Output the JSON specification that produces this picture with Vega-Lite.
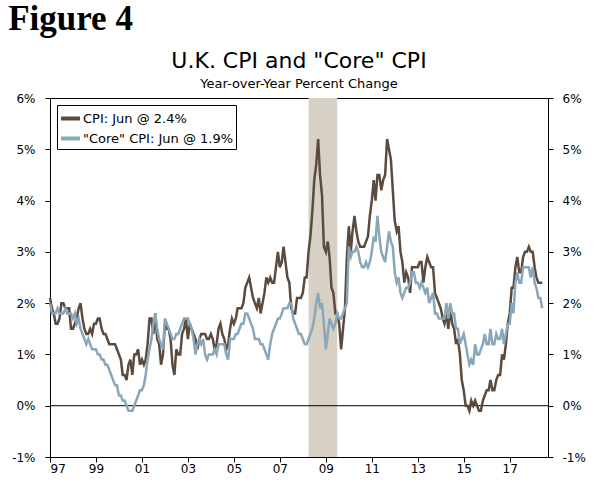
{
  "$schema": "https://vega.github.io/schema/vega-lite/v6.json",
  "background": "white",
  "padding": {"left": 8, "top": 1, "right": 10, "bottom": 14},
  "title": {
    "text": "Figure 4",
    "anchor": "start",
    "font": "Liberation Serif",
    "fontSize": 35,
    "fontWeight": "bold",
    "color": "black",
    "dx": -3,
    "offset": 13
  },
  "datasets": {
    "infl": [
      {"d": "1997-01-01", "cpi": 2.1, "core": 2.0}, {"d": "1997-02-01", "cpi": 1.9, "core": 1.8}, {"d": "1997-03-01", "cpi": 1.8, "core": 1.8},
      {"d": "1997-04-01", "cpi": 1.6, "core": 1.8}, {"d": "1997-05-01", "cpi": 1.6, "core": 1.9}, {"d": "1997-06-01", "cpi": 1.7, "core": 1.8},
      {"d": "1997-07-01", "cpi": 2.0, "core": 1.8}, {"d": "1997-08-01", "cpi": 2.0, "core": 1.8}, {"d": "1997-09-01", "cpi": 1.9, "core": 1.9},
      {"d": "1997-10-01", "cpi": 1.9, "core": 1.8}, {"d": "1997-11-01", "cpi": 1.9, "core": 1.8}, {"d": "1997-12-01", "cpi": 1.5, "core": 1.8},
      {"d": "1998-01-01", "cpi": 1.5, "core": 1.7}, {"d": "1998-02-01", "cpi": 1.6, "core": 1.8}, {"d": "1998-03-01", "cpi": 1.7, "core": 1.6},
      {"d": "1998-04-01", "cpi": 1.9, "core": 1.7}, {"d": "1998-05-01", "cpi": 2.0, "core": 1.5}, {"d": "1998-06-01", "cpi": 1.7, "core": 1.4},
      {"d": "1998-07-01", "cpi": 1.5, "core": 1.3}, {"d": "1998-08-01", "cpi": 1.4, "core": 1.2}, {"d": "1998-09-01", "cpi": 1.4, "core": 1.3},
      {"d": "1998-10-01", "cpi": 1.5, "core": 1.2}, {"d": "1998-11-01", "cpi": 1.4, "core": 1.1}, {"d": "1998-12-01", "cpi": 1.6, "core": 1.1},
      {"d": "1999-01-01", "cpi": 1.6, "core": 1.1}, {"d": "1999-02-01", "cpi": 1.7, "core": 1.0}, {"d": "1999-03-01", "cpi": 1.7, "core": 1.0},
      {"d": "1999-04-01", "cpi": 1.5, "core": 0.9}, {"d": "1999-05-01", "cpi": 1.4, "core": 0.9}, {"d": "1999-06-01", "cpi": 1.4, "core": 0.8},
      {"d": "1999-07-01", "cpi": 1.3, "core": 0.8}, {"d": "1999-08-01", "cpi": 1.2, "core": 0.7}, {"d": "1999-09-01", "cpi": 1.2, "core": 0.6},
      {"d": "1999-10-01", "cpi": 1.2, "core": 0.5}, {"d": "1999-11-01", "cpi": 1.2, "core": 0.4}, {"d": "1999-12-01", "cpi": 1.1, "core": 0.4},
      {"d": "2000-01-01", "cpi": 1.0, "core": 0.2}, {"d": "2000-02-01", "cpi": 0.9, "core": 0.2}, {"d": "2000-03-01", "cpi": 0.6, "core": 0.1},
      {"d": "2000-04-01", "cpi": 0.6, "core": 0.1}, {"d": "2000-05-01", "cpi": 0.5, "core": 0.0}, {"d": "2000-06-01", "cpi": 0.8, "core": -0.1},
      {"d": "2000-07-01", "cpi": 0.9, "core": -0.1}, {"d": "2000-08-01", "cpi": 0.6, "core": -0.1}, {"d": "2000-09-01", "cpi": 1.0, "core": 0.0},
      {"d": "2000-10-01", "cpi": 1.0, "core": 0.1}, {"d": "2000-11-01", "cpi": 1.1, "core": 0.2}, {"d": "2000-12-01", "cpi": 0.8, "core": 0.3},
      {"d": "2001-01-01", "cpi": 0.9, "core": 0.3}, {"d": "2001-02-01", "cpi": 0.8, "core": 0.4}, {"d": "2001-03-01", "cpi": 0.9, "core": 0.6},
      {"d": "2001-04-01", "cpi": 1.2, "core": 0.9}, {"d": "2001-05-01", "cpi": 1.7, "core": 1.1}, {"d": "2001-06-01", "cpi": 1.7, "core": 1.3},
      {"d": "2001-07-01", "cpi": 1.4, "core": 1.6}, {"d": "2001-08-01", "cpi": 1.8, "core": 1.8}, {"d": "2001-09-01", "cpi": 1.3, "core": 1.5},
      {"d": "2001-10-01", "cpi": 1.2, "core": 1.3}, {"d": "2001-11-01", "cpi": 0.8, "core": 1.2}, {"d": "2001-12-01", "cpi": 1.0, "core": 1.1},
      {"d": "2002-01-01", "cpi": 1.6, "core": 1.7}, {"d": "2002-02-01", "cpi": 1.5, "core": 1.6}, {"d": "2002-03-01", "cpi": 1.5, "core": 1.5},
      {"d": "2002-04-01", "cpi": 1.3, "core": 1.4}, {"d": "2002-05-01", "cpi": 0.8, "core": 1.3}, {"d": "2002-06-01", "cpi": 0.6, "core": 1.3},
      {"d": "2002-07-01", "cpi": 1.1, "core": 1.4}, {"d": "2002-08-01", "cpi": 1.0, "core": 1.4}, {"d": "2002-09-01", "cpi": 1.0, "core": 1.5},
      {"d": "2002-10-01", "cpi": 1.4, "core": 1.6}, {"d": "2002-11-01", "cpi": 1.5, "core": 1.7}, {"d": "2002-12-01", "cpi": 1.7, "core": 1.7},
      {"d": "2003-01-01", "cpi": 1.3, "core": 1.7}, {"d": "2003-02-01", "cpi": 1.6, "core": 1.6}, {"d": "2003-03-01", "cpi": 1.5, "core": 1.5},
      {"d": "2003-04-01", "cpi": 1.4, "core": 1.3}, {"d": "2003-05-01", "cpi": 1.3, "core": 1.0}, {"d": "2003-06-01", "cpi": 1.1, "core": 1.2},
      {"d": "2003-07-01", "cpi": 1.3, "core": 1.3}, {"d": "2003-08-01", "cpi": 1.4, "core": 1.2}, {"d": "2003-09-01", "cpi": 1.4, "core": 1.3},
      {"d": "2003-10-01", "cpi": 1.4, "core": 1.0}, {"d": "2003-11-01", "cpi": 1.3, "core": 0.9}, {"d": "2003-12-01", "cpi": 1.3, "core": 1.0},
      {"d": "2004-01-01", "cpi": 1.4, "core": 1.0}, {"d": "2004-02-01", "cpi": 1.3, "core": 1.0}, {"d": "2004-03-01", "cpi": 1.1, "core": 1.1},
      {"d": "2004-04-01", "cpi": 1.2, "core": 1.0}, {"d": "2004-05-01", "cpi": 1.5, "core": 1.2}, {"d": "2004-06-01", "cpi": 1.6, "core": 1.2},
      {"d": "2004-07-01", "cpi": 1.4, "core": 1.2}, {"d": "2004-08-01", "cpi": 1.3, "core": 1.2}, {"d": "2004-09-01", "cpi": 1.1, "core": 1.0},
      {"d": "2004-10-01", "cpi": 1.2, "core": 0.9}, {"d": "2004-11-01", "cpi": 1.5, "core": 1.3}, {"d": "2004-12-01", "cpi": 1.7, "core": 1.3},
      {"d": "2005-01-01", "cpi": 1.6, "core": 1.3}, {"d": "2005-02-01", "cpi": 1.7, "core": 1.4}, {"d": "2005-03-01", "cpi": 1.9, "core": 1.4},
      {"d": "2005-04-01", "cpi": 1.9, "core": 1.5}, {"d": "2005-05-01", "cpi": 1.9, "core": 1.6}, {"d": "2005-06-01", "cpi": 2.0, "core": 1.6},
      {"d": "2005-07-01", "cpi": 2.3, "core": 1.8}, {"d": "2005-08-01", "cpi": 2.4, "core": 1.8}, {"d": "2005-09-01", "cpi": 2.5, "core": 1.7},
      {"d": "2005-10-01", "cpi": 2.3, "core": 1.6}, {"d": "2005-11-01", "cpi": 2.1, "core": 1.5}, {"d": "2005-12-01", "cpi": 2.0, "core": 1.3},
      {"d": "2006-01-01", "cpi": 1.9, "core": 1.3}, {"d": "2006-02-01", "cpi": 2.1, "core": 1.3}, {"d": "2006-03-01", "cpi": 1.8, "core": 1.2},
      {"d": "2006-04-01", "cpi": 2.0, "core": 1.2}, {"d": "2006-05-01", "cpi": 2.2, "core": 1.1}, {"d": "2006-06-01", "cpi": 2.5, "core": 1.0},
      {"d": "2006-07-01", "cpi": 2.4, "core": 0.9}, {"d": "2006-08-01", "cpi": 2.5, "core": 1.2}, {"d": "2006-09-01", "cpi": 2.4, "core": 1.4},
      {"d": "2006-10-01", "cpi": 2.4, "core": 1.5}, {"d": "2006-11-01", "cpi": 2.7, "core": 1.6}, {"d": "2006-12-01", "cpi": 3.0, "core": 1.7},
      {"d": "2007-01-01", "cpi": 2.7, "core": 1.7}, {"d": "2007-02-01", "cpi": 2.8, "core": 1.8}, {"d": "2007-03-01", "cpi": 3.1, "core": 1.9},
      {"d": "2007-04-01", "cpi": 2.8, "core": 1.9}, {"d": "2007-05-01", "cpi": 2.5, "core": 1.9}, {"d": "2007-06-01", "cpi": 2.4, "core": 2.0},
      {"d": "2007-07-01", "cpi": 1.9, "core": 2.0}, {"d": "2007-08-01", "cpi": 1.8, "core": 1.7}, {"d": "2007-09-01", "cpi": 1.8, "core": 1.6},
      {"d": "2007-10-01", "cpi": 2.1, "core": 1.5}, {"d": "2007-11-01", "cpi": 2.1, "core": 1.4}, {"d": "2007-12-01", "cpi": 2.1, "core": 1.4},
      {"d": "2008-01-01", "cpi": 2.2, "core": 1.3}, {"d": "2008-02-01", "cpi": 2.5, "core": 1.2}, {"d": "2008-03-01", "cpi": 2.5, "core": 1.2},
      {"d": "2008-04-01", "cpi": 3.0, "core": 1.3}, {"d": "2008-05-01", "cpi": 3.3, "core": 1.4}, {"d": "2008-06-01", "cpi": 3.8, "core": 1.5},
      {"d": "2008-07-01", "cpi": 4.4, "core": 1.7}, {"d": "2008-08-01", "cpi": 4.7, "core": 2.0}, {"d": "2008-09-01", "cpi": 5.2, "core": 2.2},
      {"d": "2008-10-01", "cpi": 4.5, "core": 1.9}, {"d": "2008-11-01", "cpi": 4.1, "core": 2.0}, {"d": "2008-12-01", "cpi": 3.1, "core": 1.6},
      {"d": "2009-01-01", "cpi": 3.0, "core": 1.1}, {"d": "2009-02-01", "cpi": 3.2, "core": 1.4}, {"d": "2009-03-01", "cpi": 2.9, "core": 1.7},
      {"d": "2009-04-01", "cpi": 2.3, "core": 1.6}, {"d": "2009-05-01", "cpi": 2.2, "core": 1.5}, {"d": "2009-06-01", "cpi": 1.8, "core": 1.6},
      {"d": "2009-07-01", "cpi": 1.8, "core": 1.8}, {"d": "2009-08-01", "cpi": 1.6, "core": 1.7}, {"d": "2009-09-01", "cpi": 1.1, "core": 1.7},
      {"d": "2009-10-01", "cpi": 1.5, "core": 1.8}, {"d": "2009-11-01", "cpi": 1.9, "core": 1.9}, {"d": "2009-12-01", "cpi": 2.9, "core": 2.0},
      {"d": "2010-01-01", "cpi": 3.5, "core": 3.1}, {"d": "2010-02-01", "cpi": 3.0, "core": 2.9}, {"d": "2010-03-01", "cpi": 3.4, "core": 3.0},
      {"d": "2010-04-01", "cpi": 3.7, "core": 3.0}, {"d": "2010-05-01", "cpi": 3.4, "core": 3.1}, {"d": "2010-06-01", "cpi": 3.2, "core": 3.0},
      {"d": "2010-07-01", "cpi": 3.1, "core": 2.8}, {"d": "2010-08-01", "cpi": 3.1, "core": 2.7}, {"d": "2010-09-01", "cpi": 3.1, "core": 2.7},
      {"d": "2010-10-01", "cpi": 3.2, "core": 2.8}, {"d": "2010-11-01", "cpi": 3.3, "core": 2.7}, {"d": "2010-12-01", "cpi": 3.7, "core": 2.8},
      {"d": "2011-01-01", "cpi": 4.0, "core": 3.0}, {"d": "2011-02-01", "cpi": 4.4, "core": 3.3}, {"d": "2011-03-01", "cpi": 4.0, "core": 3.2},
      {"d": "2011-04-01", "cpi": 4.5, "core": 3.7}, {"d": "2011-05-01", "cpi": 4.5, "core": 3.3}, {"d": "2011-06-01", "cpi": 4.2, "core": 3.0},
      {"d": "2011-07-01", "cpi": 4.4, "core": 2.9}, {"d": "2011-08-01", "cpi": 4.5, "core": 2.8}, {"d": "2011-09-01", "cpi": 5.2, "core": 3.1},
      {"d": "2011-10-01", "cpi": 5.0, "core": 3.4}, {"d": "2011-11-01", "cpi": 4.8, "core": 3.2}, {"d": "2011-12-01", "cpi": 4.2, "core": 3.1},
      {"d": "2012-01-01", "cpi": 3.6, "core": 2.6}, {"d": "2012-02-01", "cpi": 3.4, "core": 2.4}, {"d": "2012-03-01", "cpi": 3.5, "core": 2.5},
      {"d": "2012-04-01", "cpi": 3.0, "core": 2.2}, {"d": "2012-05-01", "cpi": 2.8, "core": 2.1}, {"d": "2012-06-01", "cpi": 2.4, "core": 2.2},
      {"d": "2012-07-01", "cpi": 2.6, "core": 2.3}, {"d": "2012-08-01", "cpi": 2.5, "core": 2.3}, {"d": "2012-09-01", "cpi": 2.2, "core": 2.4},
      {"d": "2012-10-01", "cpi": 2.7, "core": 2.6}, {"d": "2012-11-01", "cpi": 2.7, "core": 2.6}, {"d": "2012-12-01", "cpi": 2.7, "core": 2.4},
      {"d": "2013-01-01", "cpi": 2.7, "core": 2.4}, {"d": "2013-02-01", "cpi": 2.8, "core": 2.3}, {"d": "2013-03-01", "cpi": 2.8, "core": 2.4},
      {"d": "2013-04-01", "cpi": 2.4, "core": 2.3}, {"d": "2013-05-01", "cpi": 2.7, "core": 2.2}, {"d": "2013-06-01", "cpi": 2.9, "core": 2.3},
      {"d": "2013-07-01", "cpi": 2.8, "core": 2.0}, {"d": "2013-08-01", "cpi": 2.7, "core": 2.1}, {"d": "2013-09-01", "cpi": 2.7, "core": 2.2},
      {"d": "2013-10-01", "cpi": 2.2, "core": 1.8}, {"d": "2013-11-01", "cpi": 2.1, "core": 1.8}, {"d": "2013-12-01", "cpi": 2.0, "core": 1.7},
      {"d": "2014-01-01", "cpi": 1.9, "core": 1.7}, {"d": "2014-02-01", "cpi": 1.7, "core": 1.7}, {"d": "2014-03-01", "cpi": 1.6, "core": 1.7},
      {"d": "2014-04-01", "cpi": 1.8, "core": 2.0}, {"d": "2014-05-01", "cpi": 1.5, "core": 1.7}, {"d": "2014-06-01", "cpi": 1.9, "core": 2.0},
      {"d": "2014-07-01", "cpi": 1.6, "core": 1.8}, {"d": "2014-08-01", "cpi": 1.5, "core": 1.8}, {"d": "2014-09-01", "cpi": 1.2, "core": 1.5},
      {"d": "2014-10-01", "cpi": 1.3, "core": 1.5}, {"d": "2014-11-01", "cpi": 1.0, "core": 1.2}, {"d": "2014-12-01", "cpi": 0.5, "core": 1.3},
      {"d": "2015-01-01", "cpi": 0.3, "core": 1.4}, {"d": "2015-02-01", "cpi": 0.0, "core": 1.2}, {"d": "2015-03-01", "cpi": 0.0, "core": 1.0},
      {"d": "2015-04-01", "cpi": -0.1, "core": 0.8}, {"d": "2015-05-01", "cpi": 0.1, "core": 0.9}, {"d": "2015-06-01", "cpi": 0.0, "core": 0.8},
      {"d": "2015-07-01", "cpi": 0.1, "core": 1.2}, {"d": "2015-08-01", "cpi": 0.0, "core": 1.0}, {"d": "2015-09-01", "cpi": -0.1, "core": 1.0},
      {"d": "2015-10-01", "cpi": -0.1, "core": 1.1}, {"d": "2015-11-01", "cpi": 0.1, "core": 1.2}, {"d": "2015-12-01", "cpi": 0.2, "core": 1.4},
      {"d": "2016-01-01", "cpi": 0.3, "core": 1.2}, {"d": "2016-02-01", "cpi": 0.3, "core": 1.2}, {"d": "2016-03-01", "cpi": 0.5, "core": 1.5},
      {"d": "2016-04-01", "cpi": 0.3, "core": 1.2}, {"d": "2016-05-01", "cpi": 0.3, "core": 1.2}, {"d": "2016-06-01", "cpi": 0.5, "core": 1.4},
      {"d": "2016-07-01", "cpi": 0.6, "core": 1.3}, {"d": "2016-08-01", "cpi": 0.6, "core": 1.3}, {"d": "2016-09-01", "cpi": 1.0, "core": 1.5},
      {"d": "2016-10-01", "cpi": 0.9, "core": 1.2}, {"d": "2016-11-01", "cpi": 1.2, "core": 1.4}, {"d": "2016-12-01", "cpi": 1.6, "core": 1.6},
      {"d": "2017-01-01", "cpi": 1.8, "core": 1.6}, {"d": "2017-02-01", "cpi": 2.3, "core": 2.0}, {"d": "2017-03-01", "cpi": 2.3, "core": 1.8},
      {"d": "2017-04-01", "cpi": 2.7, "core": 2.4}, {"d": "2017-05-01", "cpi": 2.9, "core": 2.6}, {"d": "2017-06-01", "cpi": 2.6, "core": 2.4},
      {"d": "2017-07-01", "cpi": 2.6, "core": 2.4}, {"d": "2017-08-01", "cpi": 2.9, "core": 2.7}, {"d": "2017-09-01", "cpi": 3.0, "core": 2.7},
      {"d": "2017-10-01", "cpi": 3.0, "core": 2.7}, {"d": "2017-11-01", "cpi": 3.1, "core": 2.7}, {"d": "2017-12-01", "cpi": 3.0, "core": 2.5},
      {"d": "2018-01-01", "cpi": 3.0, "core": 2.7}, {"d": "2018-02-01", "cpi": 2.7, "core": 2.4}, {"d": "2018-03-01", "cpi": 2.5, "core": 2.3},
      {"d": "2018-04-01", "cpi": 2.4, "core": 2.1}, {"d": "2018-05-01", "cpi": 2.4, "core": 2.1}, {"d": "2018-06-01", "cpi": 2.4, "core": 1.9}
    ]
  },
  "vconcat": [
    {
      "width": 498,
      "height": 359,
      "title": {
        "text": "U.K. CPI and \"Core\" CPI",
        "subtitle": "Year-over-Year Percent Change",
        "anchor": "middle",
        "frame": "group",
        "font": "DejaVu Sans",
        "fontSize": 22,
        "fontWeight": "normal",
        "color": "black",
        "subtitleFont": "DejaVu Sans",
        "subtitleFontSize": 13,
        "subtitleColor": "black",
        "subtitlePadding": 5,
        "offset": 0
      },
      "layer": [
        {
          "data": {"values": [{"start": "2008-04-01", "end": "2009-07-01"}]},
          "mark": {"type": "rect", "color": "#d6d1c4"},
          "encoding": {
            "x": {"field": "start", "type": "temporal"},
            "x2": {"field": "end"}
          }
        },
        {
          "data": {"values": [{}]},
          "mark": {"type": "rule", "color": "black", "strokeWidth": 1},
          "encoding": {
            "y": {"datum": 0, "type": "quantitative", "scale": {"domain": [-1, 6]}, "axis": null}
          }
        },
        {
          "data": {"name": "infl"},
          "mark": {"type": "line", "strokeWidth": 2.5},
          "encoding": {
            "x": {
              "field": "d",
              "type": "temporal",
              "scale": {"domain": [{"year": 1997, "month": 1, "date": 1}, {"year": 2018, "month": 9, "date": 1}]},
              "axis": {
                "values": [{"year": 1997}, {"year": 1999}, {"year": 2001}, {"year": 2003}, {"year": 2005}, {"year": 2007}, {"year": 2009}, {"year": 2011}, {"year": 2013}, {"year": 2015}, {"year": 2017}],
                "format": "%y",
                "labelPadding": 1
              }
            },
            "y": {
              "field": "cpi",
              "type": "quantitative",
              "scale": {"domain": [-1, 6]},
              "axis": {"orient": "left", "values": [-1, 0, 1, 2, 3, 4, 5, 6], "labelExpr": "datum.value + '%'", "labelPadding": 10}
            },
            "color": {"datum": "CPI: Jun @ 2.4%"}
          }
        },
        {
          "data": {"name": "infl"},
          "mark": {"type": "line", "strokeWidth": 2.5},
          "encoding": {
            "x": {"field": "d", "type": "temporal"},
            "y": {
              "field": "core",
              "type": "quantitative",
              "scale": {"domain": [-1, 6]},
              "axis": {"orient": "right", "values": [-1, 0, 1, 2, 3, 4, 5, 6], "labelExpr": "datum.value + '%'", "labelPadding": 9}
            },
            "color": {
              "datum": "\"Core\" CPI: Jun @ 1.9%",
              "scale": {
                "domain": ["CPI: Jun @ 2.4%", "\"Core\" CPI: Jun @ 1.9%"],
                "range": ["#5b4b3f", "#8aa6b9"]
              },
              "legend": {
                "title": null,
                "orient": "none",
                "legendX": 7,
                "legendY": 7
              }
            }
          }
        }
      ],
      "resolve": {"axis": {"y": "independent"}}
    }
  ],
  "config": {
    "font": "DejaVu Sans",
    "view": {"stroke": "black", "strokeWidth": 1},
    "axis": {
      "domainColor": "black",
      "tickColor": "black",
      "labelColor": "black",
      "labelFont": "DejaVu Sans",
      "labelFontSize": 12,
      "grid": false,
      "tickSize": 5,
      "title": null
    },
    "legend": {
      "strokeColor": "black",
      "fillColor": "white",
      "padding": 2,
      "labelFont": "DejaVu Sans",
      "labelFontSize": 13,
      "labelColor": "black",
      "symbolType": "stroke",
      "symbolStrokeWidth": 4,
      "symbolSize": 361,
      "rowPadding": 0,
      "labelOffset": 1
    }
  }
}
